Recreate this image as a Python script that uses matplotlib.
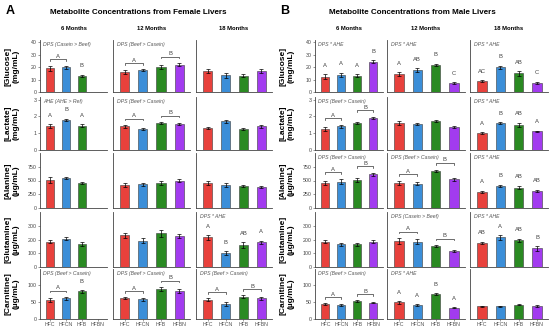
import numpy as np
import matplotlib
matplotlib.use("Agg")
import matplotlib.pyplot as plt

plt.rcParams['font.family'] = ['Liberation Sans', 'DejaVu Sans']

nan = np.nan
groups = ["HFC", "HFCN", "HFB", "HFBN"]
ages = ["6 Months", "12 Months", "18 Months"]
colors = ["#E8413C", "#3B8ED8", "#2A8A22", "#A23BEF"]

metabolites = ["[Glucose]", "[Lactate]", "[Alanine]", "[Glutamine]", "[Carnitine]"]
units = ["(mg/mL)", "(mg/mL)", "(µg/mL)", "(µg/mL)", "(µg/mL)"]
ytop = [42, 3.15, 1000, 400, 145]
yticks = [[0, 10, 20, 30, 40], [0, 1, 2, 3], [0, 250, 500, 750], [0, 100, 200, 300], [0, 50, 100]]

# female livers: [6 months, 12 months, 18 months] x groups
f_glucose = [[19, 20, 13, nan], [16, 17.5, 20, 22], [17, 13.5, 13, 17]]
f_glucose_err = [[1.8, 1.3, 1.0, nan], [1.7, 0.8, 1.5, 1.4], [1.8, 2.0, 1.2, 1.5]]
f_lactate = [[1.4, 1.8, 1.45, nan], [1.4, 1.25, 1.6, 1.55], [1.3, 1.7, 1.25, 1.4]]
f_lactate_err = [[0.12, 0.06, 0.07, nan], [0.09, 0.08, 0.07, 0.08], [0.06, 0.1, 0.04, 0.07]]
f_alanine = [[510, 540, 450, nan], [420, 430, 450, 500], [460, 420, 400, 380]]
f_alanine_err = [[50, 20, 20, nan], [30, 25, 35, 35], [40, 35, 25, 20]]
f_glutamine = [[185, 205, 170, nan], [230, 190, 245, 225], [215, 100, 160, 180]]
f_glutamine_err = [[10, 12, 14, nan], [18, 18, 25, 12], [15, 15, 20, 12]]
f_carnitine = [[55, 60, 80, nan], [60, 57, 87, 80], [56, 44, 65, 60]]
f_carnitine_err = [[7, 4, 4, nan], [3, 4, 6, 6], [4, 6, 4, 5]]

# male livers
m_glucose = [[12.5, 14, 13, 24.5], [14.5, 17.5, 22, 7], [8.5, 20, 15, 7.5]]
m_glucose_err = [[1.8, 1.7, 1.2, 1.2], [1.5, 1.5, 1.0, 0.7], [0.8, 1.3, 2.0, 0.8]]
m_lactate = [[1.25, 1.4, 1.6, 1.9], [1.6, 1.55, 1.72, 1.38], [1.0, 1.6, 1.5, 1.1]]
m_lactate_err = [[0.12, 0.1, 0.08, 0.07], [0.1, 0.08, 0.05, 0.06], [0.07, 0.06, 0.12, 0.05]]
m_alanine = [[460, 480, 510, 610], [450, 440, 680, 520], [290, 400, 370, 310]]
m_alanine_err = [[35, 50, 30, 25], [40, 30, 20, 25], [25, 25, 30, 20]]
m_glutamine = [[185, 165, 165, 185], [190, 185, 150, 115], [175, 215, 195, 135]]
m_glutamine_err = [[12, 12, 12, 12], [20, 18, 8, 8], [10, 15, 12, 15]]
m_carnitine = [[44, 40, 52, 47], [48, 40, 73, 33], [37, 37, 42, 38]]
m_carnitine_err = [[2, 3, 3, 2], [4, 3, 3, 2], [2, 2, 2, 2]]

# statistics text per row / column
f_notes = [["DPS (Casein > Beef)", "DPS (Beef > Casein)", ""],
           ["AHE (AHE > Ref)", "DPS (Beef > Casein)", ""],
           ["", "", ""],
           ["", "", "DPS * AHE"],
           ["DPS (Beef > Casein)", "DPS (Beef > Casein)", "DPS (Beef > Casein)"]]
m_notes = [["DPS * AHE", "DPS * AHE", "DPS * AHE"],
           ["DPS (Beef > Casein)", "", "DPS * AHE"],
           ["DPS (Beef > Casein)", "DPS (Beef > Casein)", "DPS * AHE"],
           ["", "DPS (Casein > Beef)", "DPS * AHE"],
           ["DPS (Beef > Casein)", "DPS * AHE", ""]]

E = ["", "", "", ""]
f_letters = [[["", "", "B", ""], E, E],
             [["A", "B", "A", ""], E, E],
             [E, E, E],
             [E, E, ["A", "B", "AB", "A"]],
             [["", "", "B", ""], E, E]]
m_letters = [[["A", "A", "A", "B"], ["A", "AB", "B", "C"], ["AC", "B", "AB", "C"]],
             [E, E, ["A", "B", "AB", "A"]],
             [E, E, ["A", "B", "AB", "AB"]],
             [E, E, ["AB", "A", "AB", "B"]],
             [E, ["A", "A", "B", "A"], E]]

AB = [(0, 1, "A"), (2, 3, "B")]
f_brackets = [[[(0, 1, "A")], AB, []],
              [[], AB, []],
              [[], [], []],
              [[], [], []],
              [[(0, 1, "A")], AB, AB]]
m_brackets = [[[], [], []],
              [AB, [], []],
              [AB, AB, []],
              [[], AB, []],
              [AB, [], []]]

female = [f_glucose, f_lactate, f_alanine, f_glutamine, f_carnitine]
female_err = [f_glucose_err, f_lactate_err, f_alanine_err, f_glutamine_err, f_carnitine_err]
male = [m_glucose, m_lactate, m_alanine, m_glutamine, m_carnitine]
male_err = [m_glucose_err, m_lactate_err, m_alanine_err, m_glutamine_err, m_carnitine_err]

W, H = 550, 329
fig = plt.figure(figsize=(5.5, 3.29), dpi=100, facecolor="white")

rows_px = [(40, 92), (97, 150), (153, 208), (212, 267), (269, 319)]
f_cols_px = [(40, 107), (113, 190), (196, 272)]
m_cols_px = [(315, 383), (387, 465), (470, 548)]


def draw_panel(cols_px, data, errs, notes, letters, brackets, title, tag, title_x, tag_x):
    fig.text(tag_x / W, 1 - 11 / H, tag, fontsize=9, fontweight="bold", ha="left", va="center")
    fig.text(title_x / W, 1 - 12 / H, title, fontsize=5.8, fontweight="bold", ha="center", va="center")
    for c, (x0, x1) in enumerate(cols_px):
        fig.text((x0 + x1) / 2 / W, 1 - 29 / H, ages[c], fontsize=4.2, fontweight="bold",
                 ha="center", va="center")
    x = np.arange(len(groups))
    for r, (y0, y1) in enumerate(rows_px):
        top = ytop[r]
        for c, (x0, x1) in enumerate(cols_px):
            ax = fig.add_axes([x0 / W, 1 - y1 / H, (x1 - x0) / W, (y1 - y0) / H])
            vals = np.array(data[r][c], dtype=float)
            err = np.array(errs[r][c], dtype=float)
            ax.bar(x, vals, width=0.5, color=colors, edgecolor="#3a3a3a", linewidth=0.4, zorder=2)
            ax.errorbar(x, vals, yerr=err, fmt="none", ecolor="black", elinewidth=0.5,
                        capsize=1.2, capthick=0.5, zorder=3)
            ax.set_xlim(-0.65, 3.6)
            ax.set_ylim(0, top)
            for s in ["top", "right"]:
                ax.spines[s].set_visible(False)
            for s in ["left", "bottom"]:
                ax.spines[s].set_color("#444444")
                ax.spines[s].set_linewidth(0.6)
            if notes[r][c]:
                ax.text(0.05, 0.96, notes[r][c], transform=ax.transAxes, fontsize=3.7,
                        style="italic", color="#555555", ha="left", va="top")
            for i, lab in enumerate(letters[r][c]):
                if lab:
                    ax.text(i, vals[i] + err[i] + 0.12 * top, lab, fontsize=4.2,
                            color="#444444", ha="center", va="bottom")
            for i0, i1, lab in brackets[r][c]:
                yb = max(vals[i0] + err[i0], vals[i1] + err[i1]) + 0.12 * top
                ax.plot([i0, i0, i1, i1], [yb - 0.03 * top, yb, yb, yb - 0.03 * top],
                        color="#333333", linewidth=0.5)
                ax.text((i0 + i1) / 2, yb + 0.01 * top, lab, fontsize=4.2, color="#444444",
                        ha="center", va="bottom")
            if c == 0:
                ax.set_yticks(yticks[r])
                ax.tick_params(axis="y", labelsize=3.8, length=1.5, width=0.4,
                               colors="#444444", pad=1)
                ax.set_ylabel(metabolites[r] + "\n" + units[r], fontsize=6.0,
                              fontweight="bold", linespacing=1.3)
                ax.yaxis.set_label_coords(-0.30, 0.5)
            else:
                ax.set_yticks(yticks[r])
                ax.tick_params(axis="y", left=False, labelleft=False)
            ax.set_xticks(x)
            if r == len(rows_px) - 1:
                ax.set_xticklabels(groups)
                ax.tick_params(axis="x", labelsize=3.8, length=1.5, width=0.4,
                               colors="#555555", pad=1)
            else:
                ax.tick_params(axis="x", bottom=False, labelbottom=False)


draw_panel(f_cols_px, female, female_err, f_notes, f_letters, f_brackets,
           "Metabolite Concentrations from Female Livers", "A", 138, 6)
draw_panel(m_cols_px, male, male_err, m_notes, m_letters, m_brackets,
           "Metabolite Concentrations from Male Livers", "B", 412, 280)

fig.savefig("out.png", dpi=100, facecolor="white")
